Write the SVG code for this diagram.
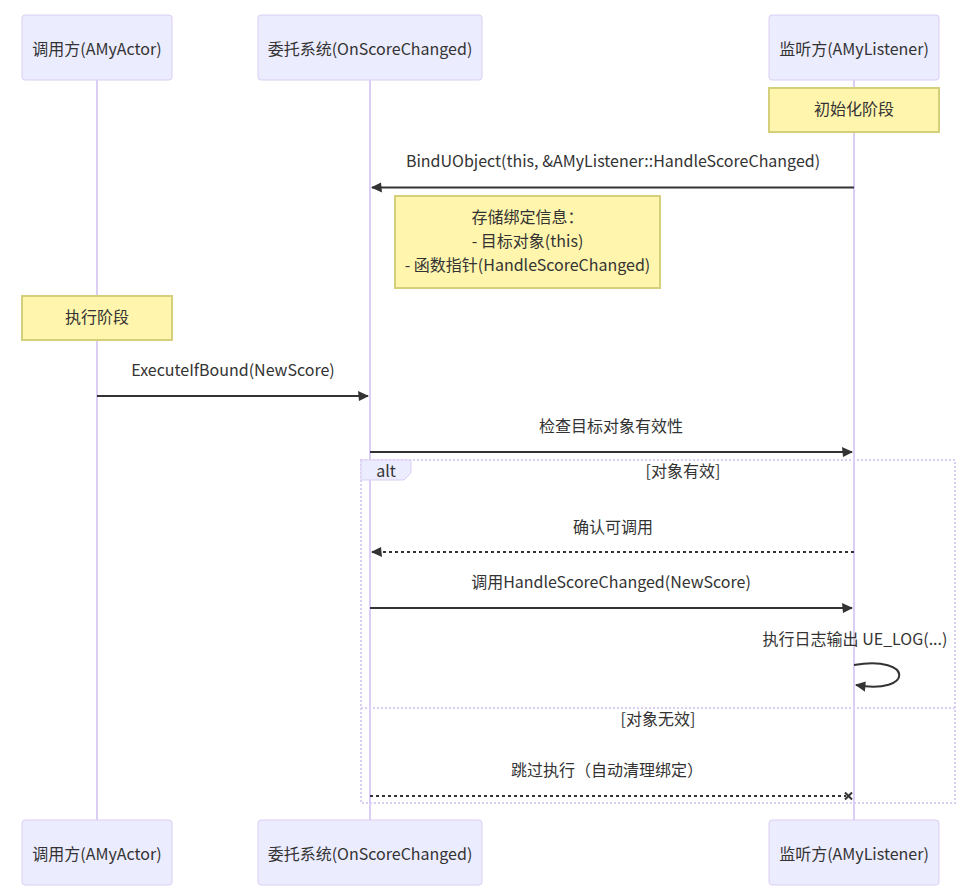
<svg xmlns="http://www.w3.org/2000/svg" width="970" height="892" viewBox="0 0 970 892">
<style>
text{font-family:"Noto Sans CJK SC","Noto Sans",sans-serif;font-size:16px;fill:#333;text-anchor:middle;dominant-baseline:central}
.actor{fill:#ECECFF;stroke:#DACEF3;stroke-width:1}
.life{stroke:#DACEF3;stroke-width:2}
.note{fill:#FFF5AD;stroke:#D4CF7A;stroke-width:2}
.msg{stroke:#333;stroke-width:2;fill:none}
.dot{stroke-dasharray:3 3}
.frame{fill:none;stroke:#DACEF3;stroke-width:2;stroke-dasharray:2 2}
</style>
<defs>
<marker id="ah" markerWidth="12" markerHeight="12" refX="9" refY="5" orient="auto-start-reverse" markerUnits="userSpaceOnUse" viewBox="-1 0 12 10">
<path d="M -1 0 L 10 5 L 0 10 z" fill="#333"/>
</marker>
</defs>
<g id="lifelines">
<line class="life" x1="97" y1="80" x2="97" y2="820"/>
<line class="life" x1="370" y1="80" x2="370" y2="820"/>
<line class="life" x1="854" y1="80" x2="854" y2="820"/>
</g>
<g id="actor-caller-top"><rect class="actor" x="22" y="15" width="150" height="65" rx="3"/><text x="97" y="47.5">调用方(AMyActor)</text></g>
<g id="actor-delegate-top"><rect class="actor" x="258" y="15" width="224" height="65" rx="3"/><text x="370" y="47.5">委托系统(OnScoreChanged)</text></g>
<g id="actor-listener-top"><rect class="actor" x="769" y="15" width="170" height="65" rx="3"/><text x="854" y="47.5">监听方(AMyListener)</text></g>
<g id="actor-caller-bottom"><rect class="actor" x="22" y="820" width="150" height="65" rx="3"/><text x="97" y="852.5">调用方(AMyActor)</text></g>
<g id="actor-delegate-bottom"><rect class="actor" x="258" y="820" width="224" height="65" rx="3"/><text x="370" y="852.5">委托系统(OnScoreChanged)</text></g>
<g id="actor-listener-bottom"><rect class="actor" x="769" y="820" width="170" height="65" rx="3"/><text x="854" y="852.5">监听方(AMyListener)</text></g>
<g id="note-init"><rect class="note" x="769" y="88" width="170" height="44"/><text x="854" y="108">初始化阶段</text></g>
<g id="note-store"><rect class="note" x="395" y="196" width="265" height="92"/><text x="527.5" y="216">存储绑定信息：</text><text x="527.5" y="240">- 目标对象(this)</text><text x="527.5" y="264">- 函数指针(HandleScoreChanged)</text></g>
<g id="note-exec"><rect class="note" x="22" y="296" width="150" height="44"/><text x="97" y="316">执行阶段</text></g>
<g id="alt-frame">
<rect class="frame" x="361" y="460" width="594" height="343"/>
<polygon points="361,460 411,460 411,473 404,480 361,480" fill="#ECECFF" stroke="#DACEF3" stroke-width="1"/>
<text x="386" y="470">alt</text>
<text x="683" y="470">[对象有效]</text>
<line class="frame" x1="361" y1="708" x2="955" y2="708"/>
<text x="658" y="718">[对象无效]</text>
</g>
<g id="connectors">
<text x="613" y="160">BindUObject(this, &amp;AMyListener::HandleScoreChanged)</text>
<line class="msg" x1="854" y1="187.5" x2="372" y2="187.5" marker-end="url(#ah)"/>
<text x="233" y="369">ExecuteIfBound(NewScore)</text>
<line class="msg" x1="97" y1="396" x2="368" y2="396" marker-end="url(#ah)"/>
<text x="611" y="425">检查目标对象有效性</text>
<line class="msg" x1="370" y1="452" x2="852" y2="452" marker-end="url(#ah)"/>
<text x="613" y="526">确认可调用</text>
<line class="msg dot" x1="854" y1="552" x2="372" y2="552" marker-end="url(#ah)"/>
<text x="611" y="581">调用HandleScoreChanged(NewScore)</text>
<line class="msg" x1="370" y1="608" x2="852" y2="608" marker-end="url(#ah)"/>
<text x="855" y="638">执行日志输出 UE_LOG(...)</text>
<path class="msg" d="M 854,665 C 914,655 914,695 856,685" marker-end="url(#ah)"/>
<text x="607" y="769">跳过执行（自动清理绑定）</text>
<line class="msg dot" x1="370" y1="796" x2="846" y2="796"/>
<path d="M 845,792.5 L 852,799.5 M 852,792.5 L 845,799.5" stroke="#333" stroke-width="2"/>
</g>
</svg>
